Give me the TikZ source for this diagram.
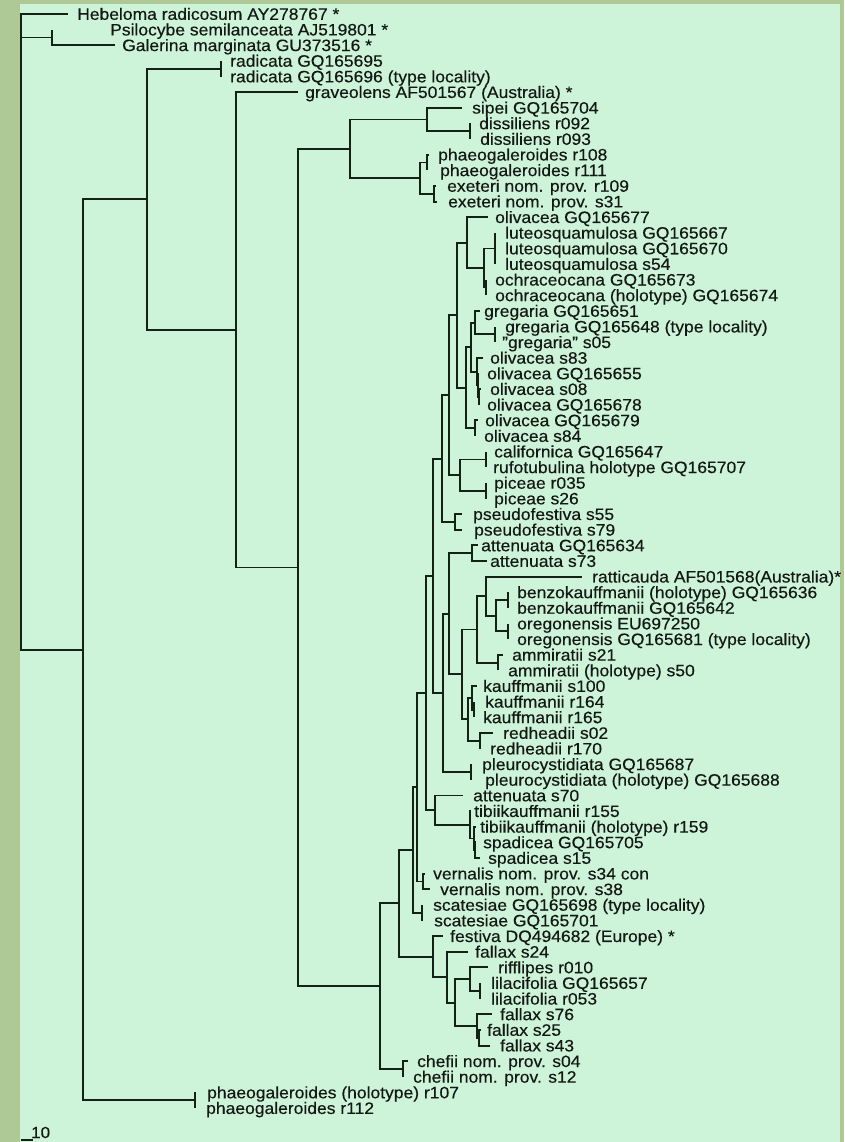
\documentclass[tikz,border=0pt]{standalone}
\usepackage{fontspec}
\setmainfont{Liberation Sans}[FakeStretch=1.06,FakeBold=0.35]
\definecolor{bord}{RGB}{174,201,150}
\definecolor{bgc}{RGB}{205,243,216}
\definecolor{ink}{RGB}{20,34,20}
\definecolor{txt}{RGB}{20,24,20}
\newcommand{\lf}[5]{%
  \coordinate (#1) at (#3,{14+(#2-1)*15.63});
  \node[lbl] (#1t) at (#4,{14+(#2-1)*15.63+5.8}) {#5};}
\newcommand{\tbranch}[2]{\foreach \c in {#2}{\draw[br] (#1) |- (\c);}}
\begin{document}
\begin{tikzpicture}[x=1pt,y=-1pt,
  lbl/.style={anchor=base west,inner sep=0pt,text=txt,font=\fontsize{16.5}{17}\selectfont},
  br/.style={draw=ink,line width=1.9pt}]
\useasboundingbox (0,0) rectangle (844,1142);
\fill[bord] (0,0) rectangle (844,1142);
\fill[bgc] (20,4) rectangle (840,1142);
% leaves
\lf{l1}{1}{68}{77}{Hebeloma radicosum AY278767 *}
\lf{l2}{2}{52}{110}{Psilocybe semilanceata AJ519801 *}
\lf{l3}{3}{115}{122}{Galerina marginata GU373516 *}
\lf{l4}{4}{221}{230}{radicata GQ165695}
\lf{l5}{5}{221}{230}{radicata GQ165696 (type locality)}
\lf{l6}{6}{298}{305}{graveolens AF501567 (Australia) *}
\lf{l7}{7}{462}{472}{sipei GQ165704}
\lf{l8}{8}{470}{479}{dissiliens r092}
\lf{l9}{9}{470}{480}{dissiliens r093}
\lf{l10}{10}{429}{438}{phaeogaleroides r108}
\lf{l11}{11}{427}{440}{phaeogaleroides r111}
\lf{l12}{12}{436}{447}{exeteri nom. prov. r109}
\lf{l13}{13}{437}{448}{exeteri nom. prov. s31}
\lf{l14}{14}{488}{495}{olivacea GQ165677}
\lf{l15}{15}{495}{505}{luteosquamulosa GQ165667}
\lf{l16}{16}{495}{505}{luteosquamulosa GQ165670}
\lf{l17}{17}{495}{505}{luteosquamulosa s54}
\lf{l18}{18}{486}{495}{ochraceocana GQ165673}
\lf{l19}{19}{486}{495}{ochraceocana (holotype) GQ165674}
\lf{l20}{20}{480}{484}{gregaria GQ165651}
\lf{l21}{21}{495}{505}{gregaria GQ165648 (type locality)}
\lf{l22}{22}{495}{502}{"gregaria" s05}
\lf{l23}{23}{483}{490}{olivacea s83}
\lf{l24}{24}{478}{487}{olivacea GQ165655}
\lf{l25}{25}{481}{490}{olivacea s08}
\lf{l26}{26}{479}{487}{olivacea GQ165678}
\lf{l27}{27}{478}{485}{olivacea GQ165679}
\lf{l28}{28}{475}{484}{olivacea s84}
\lf{l29}{29}{486}{494}{californica GQ165647}
\lf{l30}{30}{486}{493}{rufotubulina holotype GQ165707}
\lf{l31}{31}{486}{494}{piceae r035}
\lf{l32}{32}{486}{494}{piceae s26}
\lf{l33}{33}{462}{473}{pseudofestiva s55}
\lf{l34}{34}{462}{474}{pseudofestiva s79}
\lf{l35}{35}{478}{481}{attenuata GQ165634}
\lf{l36}{36}{487}{490}{attenuata s73}
\lf{l37}{37}{582}{592}{ratticauda AF501568(Australia)*}
\lf{l38}{38}{508}{517}{benzokauffmanii (holotype) GQ165636}
\lf{l39}{39}{508}{517}{benzokauffmanii GQ165642}
\lf{l40}{40}{508}{517}{oregonensis EU697250}
\lf{l41}{41}{508}{517}{oregonensis GQ165681 (type locality)}
\lf{l42}{42}{503}{512}{ammiratii s21}
\lf{l43}{43}{498}{508}{ammiratii (holotype) s50}
\lf{l44}{44}{477}{483}{kauffmanii s100}
\lf{l45}{45}{474}{485}{kauffmanii r164}
\lf{l46}{46}{474}{483}{kauffmanii r165}
\lf{l47}{47}{493}{503}{redheadii s02}
\lf{l48}{48}{480}{490}{redheadii r170}
\lf{l49}{49}{471}{482}{pleurocystidiata GQ165687}
\lf{l50}{50}{471}{485}{pleurocystidiata (holotype) GQ165688}
\lf{l51}{51}{463}{473}{attenuata s70}
\lf{l52}{52}{471}{474}{tibiikauffmanii r155}
\lf{l53}{53}{476}{480}{tibiikauffmanii (holotype) r159}
\lf{l54}{54}{476}{483}{spadicea GQ165705}
\lf{l55}{55}{480}{488}{spadicea s15}
\lf{l56}{56}{425}{433}{vernalis nom. prov. s34 con}
\lf{l57}{57}{430}{440}{vernalis nom. prov. s38}
\lf{l58}{58}{422}{433}{scatesiae GQ165698 (type locality)}
\lf{l59}{59}{422}{434}{scatesiae GQ165701}
\lf{l60}{60}{443}{450}{festiva DQ494682 (Europe) *}
\lf{l61}{61}{468}{475}{fallax s24}
\lf{l62}{62}{488}{498}{rifflipes r010}
\lf{l63}{63}{480}{491}{lilacifolia GQ165657}
\lf{l64}{64}{480}{491}{lilacifolia r053}
\lf{l65}{65}{492}{500}{fallax s76}
\lf{l66}{66}{481}{487}{fallax s25}
\lf{l67}{67}{490}{500}{fallax s43}
\lf{l68}{68}{408}{417}{chefii nom. prov. s04}
\lf{l69}{69}{403}{413}{chefii nom. prov. s12}
\lf{l70}{70}{195}{207}{phaeogaleroides (holotype) r107}
\lf{l71}{71}{195}{206}{phaeogaleroides r112}
% internal nodes
\coordinate (root) at (21,37.5);
\coordinate (PG) at (52,37.5);
\coordinate (ING) at (83,649.8);
\coordinate (N147) at (147,199.2);
\coordinate (RAD) at (221,68.7);
\coordinate (N236) at (236,329.8);
\coordinate (N298) at (298,567.5);
\coordinate (SE) at (350,148.8);
\coordinate (SD) at (427,119.5);
\coordinate (DIS) at (470,131.2);
\coordinate (PE) at (420,178.1);
\coordinate (PH) at (427,162.5);
\coordinate (EX) at (434,193.8);
\coordinate (P) at (380,986.2);
\coordinate (CH) at (403,1069);
\coordinate (Q) at (399,903.4);
\coordinate (R) at (413,850);
\coordinate (SC) at (422,912.7);
\coordinate (S) at (417,787.3);
\coordinate (VE) at (423,881.5);
\coordinate (T) at (426,693);
\coordinate (U) at (435,810.2);
\coordinate (TB) at (470,824.8);
\coordinate (SP) at (474,838.5);
\coordinate (SP2) at (475,850.2);
\coordinate (V) at (433,575.8);
\coordinate (Y) at (442,458.6);
\coordinate (PF) at (455,522);
\coordinate (Z) at (449,395.2);
\coordinate (CP) at (460,475.1);
\coordinate (CA) at (486,459.5);
\coordinate (PI) at (486,490.7);
\coordinate (N457) at (457,315.2);
\coordinate (A) at (467,242.6);
\coordinate (B) at (484,268);
\coordinate (LU) at (495,248.5);
\coordinate (OC) at (486,287.5);
\coordinate (N466) at (466,387.7);
\coordinate (OL79) at (475,428.2);
\coordinate (N471) at (471,347.2);
\coordinate (G1) at (475,322.7);
\coordinate (GG) at (495,334.4);
\coordinate (O) at (477,371.6);
\coordinate (O2) at (478,385.2);
\coordinate (O3) at (479,397);
\coordinate (W) at (443,692.9);
\coordinate (PL) at (471,772);
\coordinate (X1) at (449,613.8);
\coordinate (AT) at (472,553.2);
\coordinate (K) at (462,674.4);
\coordinate (L) at (477,629.5);
\coordinate (AM) at (498,662.7);
\coordinate (M1) at (486,596.2);
\coordinate (BO) at (496,615.8);
\coordinate (BZ) at (508,600.1);
\coordinate (OR) at (508,631.4);
\coordinate (KR) at (468,719.3);
\coordinate (KA) at (472,697.8);
\coordinate (KA2) at (474,709.6);
\coordinate (RH) at (480,740.8);
\coordinate (F) at (433,956.7);
\coordinate (G) at (447,977.2);
\coordinate (H) at (455,1002.6);
\coordinate (I) at (470,979.2);
\coordinate (LI) at (480,990.9);
\coordinate (J) at (477,1026.1);
\coordinate (FS) at (479,1037.8);
\coordinate (P107) at (195,1100.3);
% branches
\tbranch{root}{l1,PG,ING}
\tbranch{PG}{l2,l3}
\tbranch{ING}{N147,P107}
\tbranch{P107}{l70,l71}
\tbranch{N147}{RAD,N236}
\tbranch{RAD}{l4,l5}
\tbranch{N236}{l6,N298}
\tbranch{N298}{SE,P}
\tbranch{SE}{SD,PE}
\tbranch{SD}{l7,DIS}
\tbranch{DIS}{l8,l9}
\tbranch{PE}{PH,EX}
\tbranch{PH}{l10,l11}
\tbranch{EX}{l12,l13}
\tbranch{P}{Q,CH}
\tbranch{CH}{l68,l69}
\tbranch{Q}{R,F}
\tbranch{R}{S,SC}
\tbranch{SC}{l58,l59}
\tbranch{S}{T,VE}
\tbranch{VE}{l56,l57}
\tbranch{T}{V,U}
\tbranch{U}{l51,TB}
\tbranch{TB}{l52,SP}
\tbranch{SP}{l53,SP2}
\tbranch{SP2}{l54,l55}
\tbranch{V}{Y,W}
\tbranch{Y}{Z,PF}
\tbranch{PF}{l33,l34}
\tbranch{Z}{N457,CP}
\tbranch{CP}{CA,PI}
\tbranch{CA}{l29,l30}
\tbranch{PI}{l31,l32}
\tbranch{N457}{A,N466}
\tbranch{A}{l14,B}
\tbranch{B}{LU,OC}
\tbranch{LU}{l15,l16,l17}
\tbranch{OC}{l18,l19}
\tbranch{N466}{N471,OL79}
\tbranch{OL79}{l27,l28}
\tbranch{N471}{G1,O}
\tbranch{G1}{l20,GG}
\tbranch{GG}{l21,l22}
\tbranch{O}{l23,O2}
\tbranch{O2}{l24,O3}
\tbranch{O3}{l25,l26}
\tbranch{W}{X1,PL}
\tbranch{PL}{l49,l50}
\tbranch{X1}{AT,K}
\tbranch{AT}{l35,l36}
\tbranch{K}{L,KR}
\tbranch{L}{M1,AM}
\tbranch{AM}{l42,l43}
\tbranch{M1}{l37,BO}
\tbranch{BO}{BZ,OR}
\tbranch{BZ}{l38,l39}
\tbranch{OR}{l40,l41}
\tbranch{KR}{KA,RH}
\tbranch{KA}{l44,KA2}
\tbranch{KA2}{l45,l46}
\tbranch{RH}{l47,l48}
\tbranch{F}{l60,G}
\tbranch{G}{l61,H}
\tbranch{H}{I,J}
\tbranch{I}{l62,LI}
\tbranch{LI}{l63,l64}
\tbranch{J}{l65,FS}
\tbranch{FS}{l66,l67}
% scale bar
\coordinate (sb1) at (21,1140);
\coordinate (sb2) at (33,1140);
\draw[br,line width=1.5pt] (sb1) -- (sb2);
\node[lbl,font=\fontsize{16}{17}\selectfont] (sbt) at (31,1138) {10};
\end{tikzpicture}
\end{document}
